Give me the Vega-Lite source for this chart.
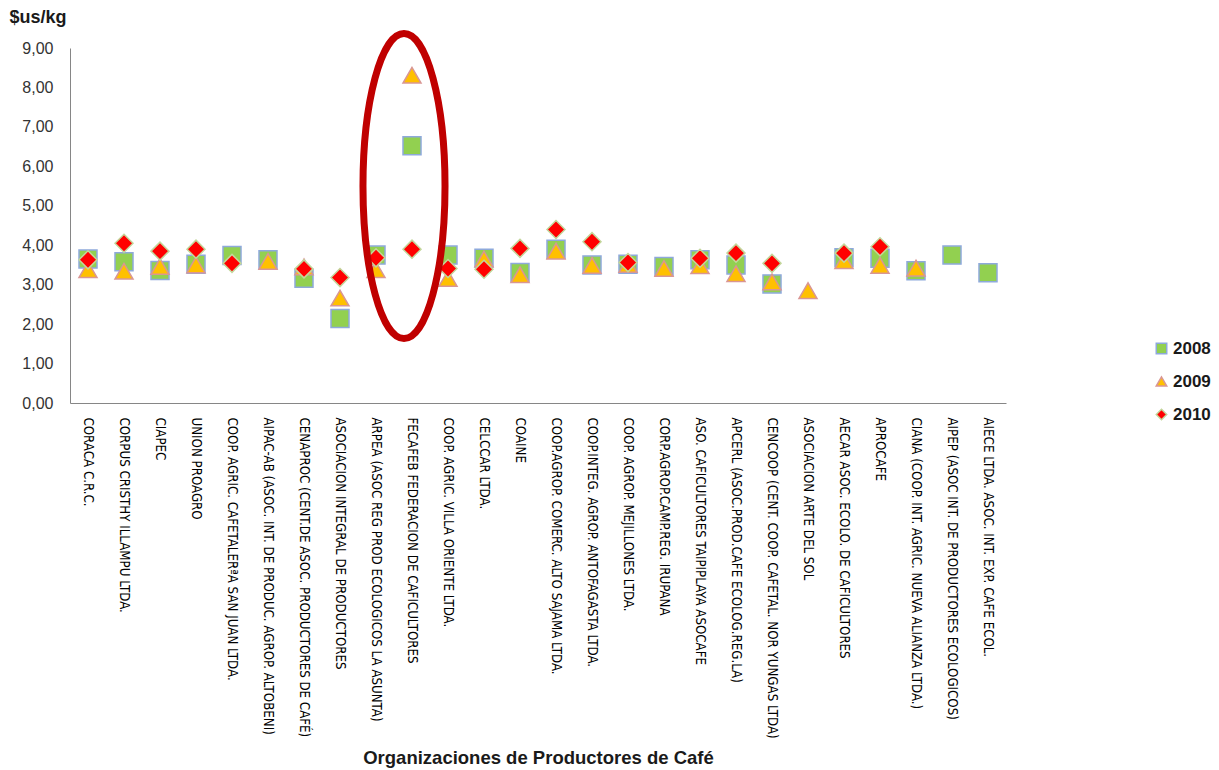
{
  "$schema": "https://vega.github.io/schema/vega-lite/v6.json",
  "width": 936,
  "height": 355,
  "autosize": {"type": "none"},
  "padding": {"left": 70, "top": 48, "right": 213, "bottom": 367},
  "background": "white",
  "config": {"view": {"stroke": null}},
  "datasets": {
    "precios": [
      {"org": "CORACA C.R.C.", "anio": "2008", "precio": 3.65},
      {"org": "CORPUS CRISTHY ILLAMPU LTDA.", "anio": "2008", "precio": 3.58},
      {"org": "CIAPEC", "anio": "2008", "precio": 3.36},
      {"org": "UNION PROAGRO", "anio": "2008", "precio": 3.52},
      {"org": "COOP. AGRIC. CAFETALERªA SAN JUAN LTDA.", "anio": "2008", "precio": 3.74},
      {"org": "AIPAC-AB (ASOC. INT. DE PRODUC. AGROP. ALTOBENI)", "anio": "2008", "precio": 3.63},
      {"org": "CENAPROC (CENT.DE ASOC. PRODUCTORES DE CAFÉ)", "anio": "2008", "precio": 3.16},
      {"org": "ASOCIACION INTEGRAL DE PRODUCTORES", "anio": "2008", "precio": 2.14},
      {"org": "ARPEA (ASOC REG PROD ECOLOGICOS LA ASUNTA)", "anio": "2008", "precio": 3.75},
      {"org": "FECAFEB FEDERACION DE CAFICULTORES", "anio": "2008", "precio": 6.52},
      {"org": "COOP. AGRIC. VILLA ORIENTE LTDA.", "anio": "2008", "precio": 3.75},
      {"org": "CELCCAR LTDA.", "anio": "2008", "precio": 3.67},
      {"org": "COAINE", "anio": "2008", "precio": 3.31},
      {"org": "COOP.AGROP. COMERC. ALTO SAJAMA LTDA.", "anio": "2008", "precio": 3.9},
      {"org": "COOP.INTEG. AGROP. ANTOFAGASTA LTDA.", "anio": "2008", "precio": 3.5},
      {"org": "COOP. AGROP. MEJILLONES LTDA.", "anio": "2008", "precio": 3.52},
      {"org": "CORP.AGROP.CAMP.REG. IRUPANA", "anio": "2008", "precio": 3.46},
      {"org": "ASO. CAFICULTORES TAIPIPLAYA ASOCAFE", "anio": "2008", "precio": 3.63},
      {"org": "APCERL (ASOC.PROD.CAFE ECOLOG.REG.LA)", "anio": "2008", "precio": 3.5},
      {"org": "CENCOOP (CENT. COOP. CAFETAL. NOR YUNGAS LTDA)", "anio": "2008", "precio": 3.02},
      {"org": "AECAR ASOC. ECOLO. DE CAFICULTORES", "anio": "2008", "precio": 3.68},
      {"org": "APROCAFE", "anio": "2008", "precio": 3.67},
      {"org": "CIANA (COOP. INT. AGRIC. NUEVA ALIANZA LTDA.)", "anio": "2008", "precio": 3.35},
      {"org": "AIPEP (ASOC INT. DE PRODUCTORES ECOLOGICOS)", "anio": "2008", "precio": 3.75},
      {"org": "AIECE LTDA. ASOC. INT. EXP. CAFE ECOL.", "anio": "2008", "precio": 3.3},

      {"org": "CORACA C.R.C.", "anio": "2009", "precio": 3.38},
      {"org": "CORPUS CRISTHY ILLAMPU LTDA.", "anio": "2009", "precio": 3.34},
      {"org": "CIAPEC", "anio": "2009", "precio": 3.46},
      {"org": "UNION PROAGRO", "anio": "2009", "precio": 3.5},
      {"org": "AIPAC-AB (ASOC. INT. DE PRODUC. AGROP. ALTOBENI)", "anio": "2009", "precio": 3.59},
      {"org": "CENAPROC (CENT.DE ASOC. PRODUCTORES DE CAFÉ)", "anio": "2009", "precio": 3.45},
      {"org": "ASOCIACION INTEGRAL DE PRODUCTORES", "anio": "2009", "precio": 2.66},
      {"org": "ARPEA (ASOC REG PROD ECOLOGICOS LA ASUNTA)", "anio": "2009", "precio": 3.38},
      {"org": "FECAFEB FEDERACION DE CAFICULTORES", "anio": "2009", "precio": 8.31},
      {"org": "COOP. AGRIC. VILLA ORIENTE LTDA.", "anio": "2009", "precio": 3.16},
      {"org": "CELCCAR LTDA.", "anio": "2009", "precio": 3.65},
      {"org": "COAINE", "anio": "2009", "precio": 3.25},
      {"org": "COOP.AGROP. COMERC. ALTO SAJAMA LTDA.", "anio": "2009", "precio": 3.85},
      {"org": "COOP.INTEG. AGROP. ANTOFAGASTA LTDA.", "anio": "2009", "precio": 3.49},
      {"org": "COOP. AGROP. MEJILLONES LTDA.", "anio": "2009", "precio": 3.51},
      {"org": "CORP.AGROP.CAMP.REG. IRUPANA", "anio": "2009", "precio": 3.41},
      {"org": "ASO. CAFICULTORES TAIPIPLAYA ASOCAFE", "anio": "2009", "precio": 3.48},
      {"org": "APCERL (ASOC.PROD.CAFE ECOLOG.REG.LA)", "anio": "2009", "precio": 3.28},
      {"org": "CENCOOP (CENT. COOP. CAFETAL. NOR YUNGAS LTDA)", "anio": "2009", "precio": 3.07},
      {"org": "ASOCIACION ARTE DEL SOL", "anio": "2009", "precio": 2.85},
      {"org": "AECAR ASOC. ECOLO. DE CAFICULTORES", "anio": "2009", "precio": 3.61},
      {"org": "APROCAFE", "anio": "2009", "precio": 3.49},
      {"org": "CIANA (COOP. INT. AGRIC. NUEVA ALIANZA LTDA.)", "anio": "2009", "precio": 3.42},

      {"org": "CORACA C.R.C.", "anio": "2010", "precio": 3.63},
      {"org": "CORPUS CRISTHY ILLAMPU LTDA.", "anio": "2010", "precio": 4.05},
      {"org": "CIAPEC", "anio": "2010", "precio": 3.85},
      {"org": "UNION PROAGRO", "anio": "2010", "precio": 3.9},
      {"org": "COOP. AGRIC. CAFETALERªA SAN JUAN LTDA.", "anio": "2010", "precio": 3.54},
      {"org": "CENAPROC (CENT.DE ASOC. PRODUCTORES DE CAFÉ)", "anio": "2010", "precio": 3.4},
      {"org": "ASOCIACION INTEGRAL DE PRODUCTORES", "anio": "2010", "precio": 3.18},
      {"org": "ARPEA (ASOC REG PROD ECOLOGICOS LA ASUNTA)", "anio": "2010", "precio": 3.68},
      {"org": "FECAFEB FEDERACION DE CAFICULTORES", "anio": "2010", "precio": 3.9},
      {"org": "COOP. AGRIC. VILLA ORIENTE LTDA.", "anio": "2010", "precio": 3.41},
      {"org": "CELCCAR LTDA.", "anio": "2010", "precio": 3.39},
      {"org": "COAINE", "anio": "2010", "precio": 3.92},
      {"org": "COOP.AGROP. COMERC. ALTO SAJAMA LTDA.", "anio": "2010", "precio": 4.4},
      {"org": "COOP.INTEG. AGROP. ANTOFAGASTA LTDA.", "anio": "2010", "precio": 4.09},
      {"org": "COOP. AGROP. MEJILLONES LTDA.", "anio": "2010", "precio": 3.56},
      {"org": "ASO. CAFICULTORES TAIPIPLAYA ASOCAFE", "anio": "2010", "precio": 3.67},
      {"org": "APCERL (ASOC.PROD.CAFE ECOLOG.REG.LA)", "anio": "2010", "precio": 3.8},
      {"org": "CENCOOP (CENT. COOP. CAFETAL. NOR YUNGAS LTDA)", "anio": "2010", "precio": 3.54},
      {"org": "AECAR ASOC. ECOLO. DE CAFICULTORES", "anio": "2010", "precio": 3.8},
      {"org": "APROCAFE", "anio": "2010", "precio": 3.96}
    ],
    "resaltado": [
      {"org": "FECAFEB FEDERACION DE CAFICULTORES", "precio": 5.5}
    ]
  },
  "encoding": {
    "x": {
      "field": "org",
      "type": "nominal",
      "scale": {
        "type": "band",
        "paddingInner": 0,
        "paddingOuter": 0,
        "domain": [
          "CORACA C.R.C.",
          "CORPUS CRISTHY ILLAMPU LTDA.",
          "CIAPEC",
          "UNION PROAGRO",
          "COOP. AGRIC. CAFETALERªA SAN JUAN LTDA.",
          "AIPAC-AB (ASOC. INT. DE PRODUC. AGROP. ALTOBENI)",
          "CENAPROC (CENT.DE ASOC. PRODUCTORES DE CAFÉ)",
          "ASOCIACION INTEGRAL DE PRODUCTORES",
          "ARPEA (ASOC REG PROD ECOLOGICOS LA ASUNTA)",
          "FECAFEB FEDERACION DE CAFICULTORES",
          "COOP. AGRIC. VILLA ORIENTE LTDA.",
          "CELCCAR LTDA.",
          "COAINE",
          "COOP.AGROP. COMERC. ALTO SAJAMA LTDA.",
          "COOP.INTEG. AGROP. ANTOFAGASTA LTDA.",
          "COOP. AGROP. MEJILLONES LTDA.",
          "CORP.AGROP.CAMP.REG. IRUPANA",
          "ASO. CAFICULTORES TAIPIPLAYA ASOCAFE",
          "APCERL (ASOC.PROD.CAFE ECOLOG.REG.LA)",
          "CENCOOP (CENT. COOP. CAFETAL. NOR YUNGAS LTDA)",
          "ASOCIACION ARTE DEL SOL",
          "AECAR ASOC. ECOLO. DE CAFICULTORES",
          "APROCAFE",
          "CIANA (COOP. INT. AGRIC. NUEVA ALIANZA LTDA.)",
          "AIPEP (ASOC INT. DE PRODUCTORES ECOLOGICOS)",
          "AIECE LTDA. ASOC. INT. EXP. CAFE ECOL."
        ]
      },
      "axis": {
        "title": "Organizaciones de Productores de Café",
        "titleFont": "Liberation Sans",
        "titleFontSize": 18.5,
        "titleFontWeight": "bold",
        "titleColor": "#1a1a1a",
        "titleY": 354,
        "titleBaseline": "middle",
        "labelAngle": 90,
        "labelFont": "DejaVu Sans Condensed, sans-serif",
        "labelFontSize": 13.2,
        "labelColor": "#000000",
        "labelPadding": 14,
        "labelLimit": 400,
        "labelOverlap": false,
        "ticks": false,
        "domainColor": "#868686",
        "domainWidth": 1
      }
    },
    "y": {
      "field": "precio",
      "type": "quantitative",
      "scale": {"domain": [0, 9], "nice": false, "zero": true},
      "axis": {
        "title": "$us/kg",
        "titleAngle": 0,
        "titleAlign": "left",
        "titleBaseline": "middle",
        "titleX": -61,
        "titleY": -31,
        "titleFont": "Liberation Sans",
        "titleFontSize": 18,
        "titleFontWeight": "bold",
        "titleColor": "#1a1a1a",
        "values": [0, 1, 2, 3, 4, 5, 6, 7, 8, 9],
        "labelExpr": "replace(format(datum.value, '.2f'), '.', ',')",
        "labelOverlap": false,
        "labelFont": "Liberation Sans",
        "labelFontSize": 16,
        "labelColor": "#333333",
        "labelPadding": 17,
        "grid": false,
        "ticks": false,
        "domainColor": "#868686",
        "domainWidth": 1
      }
    }
  },
  "layer": [
    {
      "data": {"name": "precios"},
      "mark": {"type": "point", "filled": true, "size": 324, "strokeWidth": 1.5, "opacity": 1},
      "encoding": {
        "shape": {
          "field": "anio",
          "type": "nominal",
          "scale": {"domain": ["2008", "2009", "2010"], "range": ["square", "triangle-up", "diamond"]},
          "legend": {
            "orient": "none",
            "legendX": 1083,
            "legendY": 292,
            "title": null,
            "symbolSize": 110,
            "symbolStrokeWidth": 1.5,
            "labelFont": "Liberation Sans",
            "labelFontSize": 17,
            "labelFontWeight": "bold",
            "labelColor": "#1a1a1a",
            "rowPadding": 15,
            "labelOffset": 3
          }
        },
        "fill": {
          "field": "anio",
          "type": "nominal",
          "scale": {"domain": ["2008", "2009", "2010"], "range": ["#92D050", "#FFC000", "#FF0000"]}
        },
        "stroke": {
          "field": "anio",
          "type": "nominal",
          "scale": {"domain": ["2008", "2009", "2010"], "range": ["#8EA9DB", "#D99694", "#C3D69B"]}
        }
      }
    },
    {
      "data": {"name": "resaltado"},
      "mark": {
        "type": "point",
        "filled": false,
        "shape": "M0,-1 A0.269,1 0 1,1 0,1 A0.269,1 0 1,1 0,-1 Z",
        "size": 93025,
        "stroke": "#C00000",
        "strokeWidth": 7,
        "fill": null,
        "opacity": 1,
        "xOffset": -8
      },
      "encoding": {}
    }
  ]
}
